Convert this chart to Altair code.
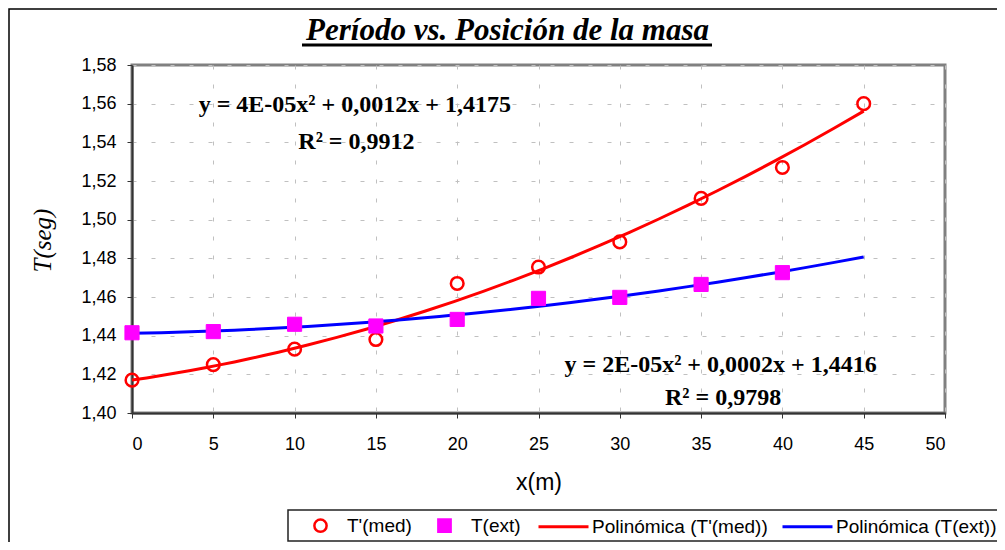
import altair as alt
import pandas as pd

# ---- data ----
x_med = [0, 5, 10, 15, 20, 25, 30, 35, 40, 45]
t_med = [1.417, 1.425, 1.433, 1.438, 1.467, 1.4755, 1.4885, 1.511, 1.527, 1.560]
x_ext = [0, 5, 10, 15, 20, 25, 30, 35, 40]
t_ext = [1.4415, 1.4421, 1.4459, 1.445, 1.4484, 1.4593, 1.4598, 1.4665, 1.4726]

series_pts = ["T'(med)", "T(ext)"]
series_fit = ["Polinómica (T'(med))", "Polinómica (T(ext))"]

x_ticks = [0, 5, 10, 15, 20, 25, 30, 35, 40, 45, 50]
y_ticks = [1.40, 1.42, 1.44, 1.46, 1.48, 1.50, 1.52, 1.54, 1.56, 1.58]

eq_text = ["y = 4E-05x² + 0,0012x + 1,4175", "R² = 0,9912",
           "y = 2E-05x² + 0,0002x + 1,4416", "R² = 0,9798"]
eq_x = [13.7, 13.8, 36.2, 36.35]
eq_y = [1.5593, 1.5402, 1.4248, 1.4078]

title_text = "Período vs. Posición de la masa"

# ---- tables ----
df_med = pd.DataFrame({"x": x_med, "T": t_med, "serie": series_pts[0], "ajuste": series_fit[0]})
df_ext = pd.DataFrame({"x": x_ext, "T": t_ext, "serie": series_pts[1], "ajuste": series_fit[1]})
df_all = pd.concat([df_med, df_ext], ignore_index=True)
df_eq = pd.DataFrame({"x": eq_x, "T": eq_y, "txt": eq_text})
df_one = pd.DataFrame({"k": [0]})

W, H = 813, 348

xenc = alt.X("x:Q", scale=alt.Scale(domain=[0, 50], nice=False),
             axis=alt.Axis(values=x_ticks, title="x(m)", grid=True,
                           labelPadding=17, titleFont="Liberation Sans",
                           titleFontSize=23, titleFontWeight="normal",
                           titleX=W / 2, titleY=69, titleBaseline="middle",
                           titleAlign="center"))
yenc = alt.Y("T:Q", scale=alt.Scale(domain=[1.40, 1.58], nice=False, zero=False),
             axis=alt.Axis(values=y_ticks, title="T(seg)", grid=True,
                           labelExpr="replace(format(datum.value, '.2f'), '.', ',')",
                           labelPadding=11, titleFont="Liberation Serif",
                           titleFontStyle="italic", titleFontWeight="normal",
                           titleFontSize=25, titleAngle=270, titleX=-90, titleY=175,
                           titleBaseline="middle", titleAlign="center"))

pts_legend = alt.Legend(
    title=None, orient="none", legendX=179, legendY=451, direction="horizontal",
    symbolSize=150, symbolStrokeWidth=2.5, labelOffset=17, columnPadding=21, padding=0,
    labelFont="Liberation Sans", labelFontSize=19, labelColor="black", symbolOpacity=1,
    labelLimit=400)

shape_enc = alt.Shape("serie:N", scale=alt.Scale(domain=series_pts, range=["circle", "square"]),
                      legend=pts_legend)
fill_enc = alt.Fill("serie:N", scale=alt.Scale(domain=series_pts, range=["transparent", "#FF00FF"]),
                    legend=pts_legend)
stroke_enc = alt.Stroke("serie:N", scale=alt.Scale(domain=series_pts, range=["#FF0000", "#FF00FF"]),
                        legend=pts_legend)

lines = alt.Chart(df_all).transform_regression(
    "x", "T", method="poly", order=2, extent=[0, 45], groupby=["ajuste"]
).mark_line(strokeWidth=3).encode(
    x=xenc, y=yenc,
    color=alt.Color("ajuste:N", scale=alt.Scale(domain=series_fit, range=["#FF0000", "#0000FF"]),
                    legend=alt.Legend(title=None, orient="none", legendX=405, legendY=435,
                                      direction="horizontal", symbolType="stroke",
                                      symbolSize=2500, symbolStrokeWidth=3, labelOffset=2,
                                      columnPadding=8, padding=0, labelLimit=400,
                                      labelFont="Liberation Sans", labelFontSize=19,
                                      labelColor="black"))
)

circles = alt.Chart(df_med).mark_point(filled=True, size=160, strokeWidth=2.5, opacity=1).encode(
    x=xenc, y=yenc, shape=shape_enc, fill=fill_enc, stroke=stroke_enc)

squares = alt.Chart(df_ext).mark_point(filled=True, size=200, strokeWidth=1, opacity=1).encode(
    x=xenc, y=yenc, shape=shape_enc, fill=fill_enc, stroke=stroke_enc)

eqs = alt.Chart(df_eq).mark_text(font="Liberation Serif", fontWeight="bold", fontSize=24,
                                 color="black", align="center", baseline="middle").encode(
    x=xenc, y=yenc, text="txt:N")

underline = alt.Chart(df_one).mark_rule(color="black", strokeWidth=3).encode(
    x=alt.value(170), x2=alt.value(580), y=alt.value(-20))

legend_box = alt.Chart(df_one).mark_rect(fill="white", stroke="#222222", strokeWidth=1.5).encode(
    x=alt.value(156), x2=alt.value(900), y=alt.value(445), y2=alt.value(476))

outer_frame = alt.Chart(df_one).mark_rect(fill=None, stroke="black", strokeWidth=1.5).encode(
    x=alt.value(-123), x2=alt.value(1000), y=alt.value(-56), y2=alt.value(700))

chart = alt.layer(outer_frame, legend_box, lines, circles, squares, eqs, underline).properties(
    width=W, height=H,
    title=alt.TitleParams(title_text, font="Liberation Serif", fontSize=31,
                          fontWeight="bold", fontStyle="italic", color="black",
                          anchor="middle", dx=-31, offset=-39),
    autosize=alt.AutoSizeParams(type="none"),
    padding={"left": 124, "top": 57, "right": 52, "bottom": 129},
    background="white",
).configure_view(
    stroke="#808080", strokeWidth=3
).configure_axis(
    labelFont="Liberation Sans", labelFontSize=18, labelColor="black",
    titleColor="black", tickColor="#333333", tickSize=5, domainColor="#333333",
    domainWidth=2, gridColor="#c0c0c0", gridDash=[4, 15], gridWidth=1
)

chart.save("out.html", embed_options={"renderer": "svg", "actions": False})
